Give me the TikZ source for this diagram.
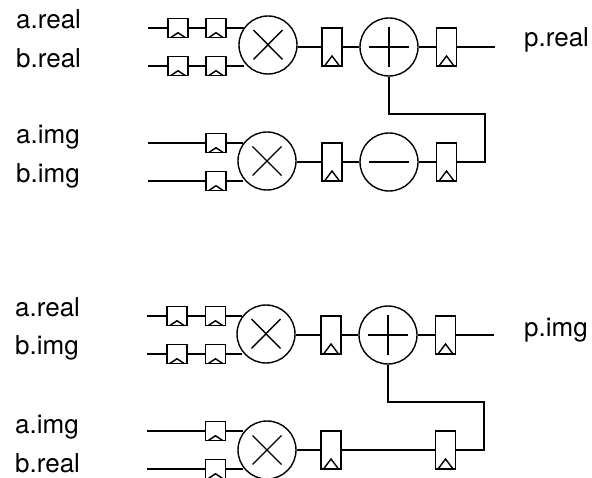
\documentclass[tikz,border=0pt]{standalone}
\usepackage{fontspec}
\setmainfont{TeX Gyre Heros}
\usetikzlibrary{calc}
\tikzset{
    lbl/.style={anchor=base west, inner sep=0pt, font=\fontsize{26}{30}\selectfont},
    op/.style={draw, circle, line width=1.4pt, minimum size=58pt, inner sep=0pt},
    regs/.style={draw, line width=1.4pt, minimum width=20pt, minimum height=19.5pt, inner sep=0pt,
        path picture={\draw[line width=1.4pt] ($(path picture bounding box.south west)+(2.5,0)$) -- ($(path picture bounding box.south)+(0,-5)$) -- ($(path picture bounding box.south east)+(-2.5,0)$);}},
    regl/.style={draw, line width=1.4pt, minimum width=20pt, minimum height=38pt, inner sep=0pt,
        path picture={\draw[line width=1.4pt] ($(path picture bounding box.south west)+(2.5,0)$) -- ($(path picture bounding box.south)+(0,-10)$) -- ($(path picture bounding box.south east)+(-2.5,0)$);}},
    wire/.style={line width=1.4pt}
}
\begin{document}
\begin{tikzpicture}[x=1pt,y=-1pt]
    \useasboundingbox (0,0) rectangle (592,478);
    \clip (0,0) rectangle (592,478);

    \node[lbl] (l1) at (16,29) {a.real};
    \node[lbl] (l2) at (16,68) {b.real};
    \node[lbl] (l3) at (16,144) {a.img};
    \node[lbl] (l4) at (16,183) {b.img};
    \node[lbl] (l5) at (524,47) {p.real};

    \coordinate (ia1) at (148,28);
    \coordinate (ib1) at (148,66);
    \node[regs] (ra1) at (178,28) {};
    \node[regs] (ra2) at (216,28) {};
    \node[regs] (rb1) at (178,66) {};
    \node[regs] (rb2) at (216,66) {};
    \node[op] (m1) at (268,45) {};
    \draw[wire] ($(m1)+(-14.5,-15)$) -- ($(m1)+(14.5,14.5)$) ($(m1)+(-14.5,14.5)$) -- ($(m1)+(14.5,-15)$);
    \node[regl] (r1) at (332,47) {};
    \node[op] (add1) at (389,47) {};
    \draw[wire] ($(add1)+(-20,0)$) -- ($(add1)+(20,0)$) ($(add1)+(0,-20)$) -- ($(add1)+(0,20)$);
    \node[regl] (r2) at (446.5,47) {};
    \coordinate (o1) at (495,47);
    \draw[wire] (ia1) -- (ra1) (ra1) -- (ra2) (ra2.east) -- (ra2.east -| m1.145);
    \draw[wire] (ib1) -- (rb1) (rb1) -- (rb2) (rb2.east) -- (rb2.east -| m1.215);
    \draw[wire] (m1.east |- r1) -- (r1) (r1) -- (add1) (add1) -- (r2) (r2) -- (o1);

    \coordinate (ic1) at (148,143);
    \coordinate (id1) at (148,181);
    \node[regs] (rc2) at (216,143) {};
    \node[regs] (rd2) at (216,181) {};
    \node[op] (m2) at (267,161) {};
    \draw[wire] ($(m2)+(-14.5,-14.5)$) -- ($(m2)+(14.5,14.5)$) ($(m2)+(-14.5,14.5)$) -- ($(m2)+(14.5,-14.5)$);
    \node[regl] (r3) at (332,162) {};
    \node[op] (sub1) at (389,162) {};
    \draw[wire] ($(sub1)+(-20,0)$) -- ($(sub1)+(20,0)$);
    \node[regl] (r4) at (446.5,162) {};
    \draw[wire] (ic1) -- (rc2) (rc2.east) -- (rc2.east -| m2.145);
    \draw[wire] (id1) -- (rd2) (rd2.east) -- (rd2.east -| m2.215);
    \draw[wire] (m2.east |- r3) -- (r3) (r3) -- (sub1) (sub1) -- (r4);
    \draw[wire] (r4.east) -- (485,162) -- (485,114) -| (add1.south);

    \node[lbl] (l6) at (15,317) {a.real};
    \node[lbl] (l7) at (15,355) {b.img};
    \node[lbl] (l8) at (15,433) {a.img};
    \node[lbl] (l9) at (15,472) {b.real};
    \node[lbl] (l10) at (524,337) {p.img};

    \coordinate (ia2) at (147,316);
    \coordinate (ib2) at (147,354);
    \node[regs] (sa1) at (177,316) {};
    \node[regs] (sa2) at (215.5,316) {};
    \node[regs] (sb1) at (177,354) {};
    \node[regs] (sb2) at (215.5,354) {};
    \node[op] (m3) at (266,334) {};
    \draw[wire] ($(m3)+(-14.5,-15)$) -- ($(m3)+(14.5,14.5)$) ($(m3)+(-14.5,14.5)$) -- ($(m3)+(14.5,-15)$);
    \node[regl] (r5) at (331,335) {};
    \node[op] (add2) at (388,335) {};
    \draw[wire] ($(add2)+(-20,0)$) -- ($(add2)+(20,0)$) ($(add2)+(0,-20)$) -- ($(add2)+(0,20)$);
    \node[regl] (r6) at (445.5,335) {};
    \coordinate (o2) at (494,335);
    \draw[wire] (ia2) -- (sa1) (sa1) -- (sa2) (sa2.east) -- (sa2.east -| m3.145);
    \draw[wire] (ib2) -- (sb1) (sb1) -- (sb2) (sb2.east) -- (sb2.east -| m3.215);
    \draw[wire] (m3.east |- r5) -- (r5) (r5) -- (add2) (add2) -- (r6) (r6) -- (o2);

    \coordinate (ic2) at (147,431);
    \coordinate (id2) at (147,469);
    \node[regs] (sc2) at (215.5,431) {};
    \node[regs] (sd2) at (215.5,469) {};
    \node[op] (m4) at (267,450) {};
    \draw[wire] ($(m4)+(-14.5,-14.5)$) -- ($(m4)+(14.5,14.5)$) ($(m4)+(-14.5,14.5)$) -- ($(m4)+(14.5,-14.5)$);
    \node[regl] (r7) at (331,450) {};
    \node[regl] (r8) at (445.5,450) {};
    \draw[wire] (ic2) -- (sc2) (sc2.east) -- (sc2.east -| m4.145);
    \draw[wire] (id2) -- (sd2) (sd2.east) -- (sd2.east -| m4.215);
    \draw[wire] (m4.east |- r7) -- (r7) (r7) -- (r8);
    \draw[wire] (r8.east) -- (484,450) -- (484,402) -| (add2.south);
\end{tikzpicture}
\end{document}
